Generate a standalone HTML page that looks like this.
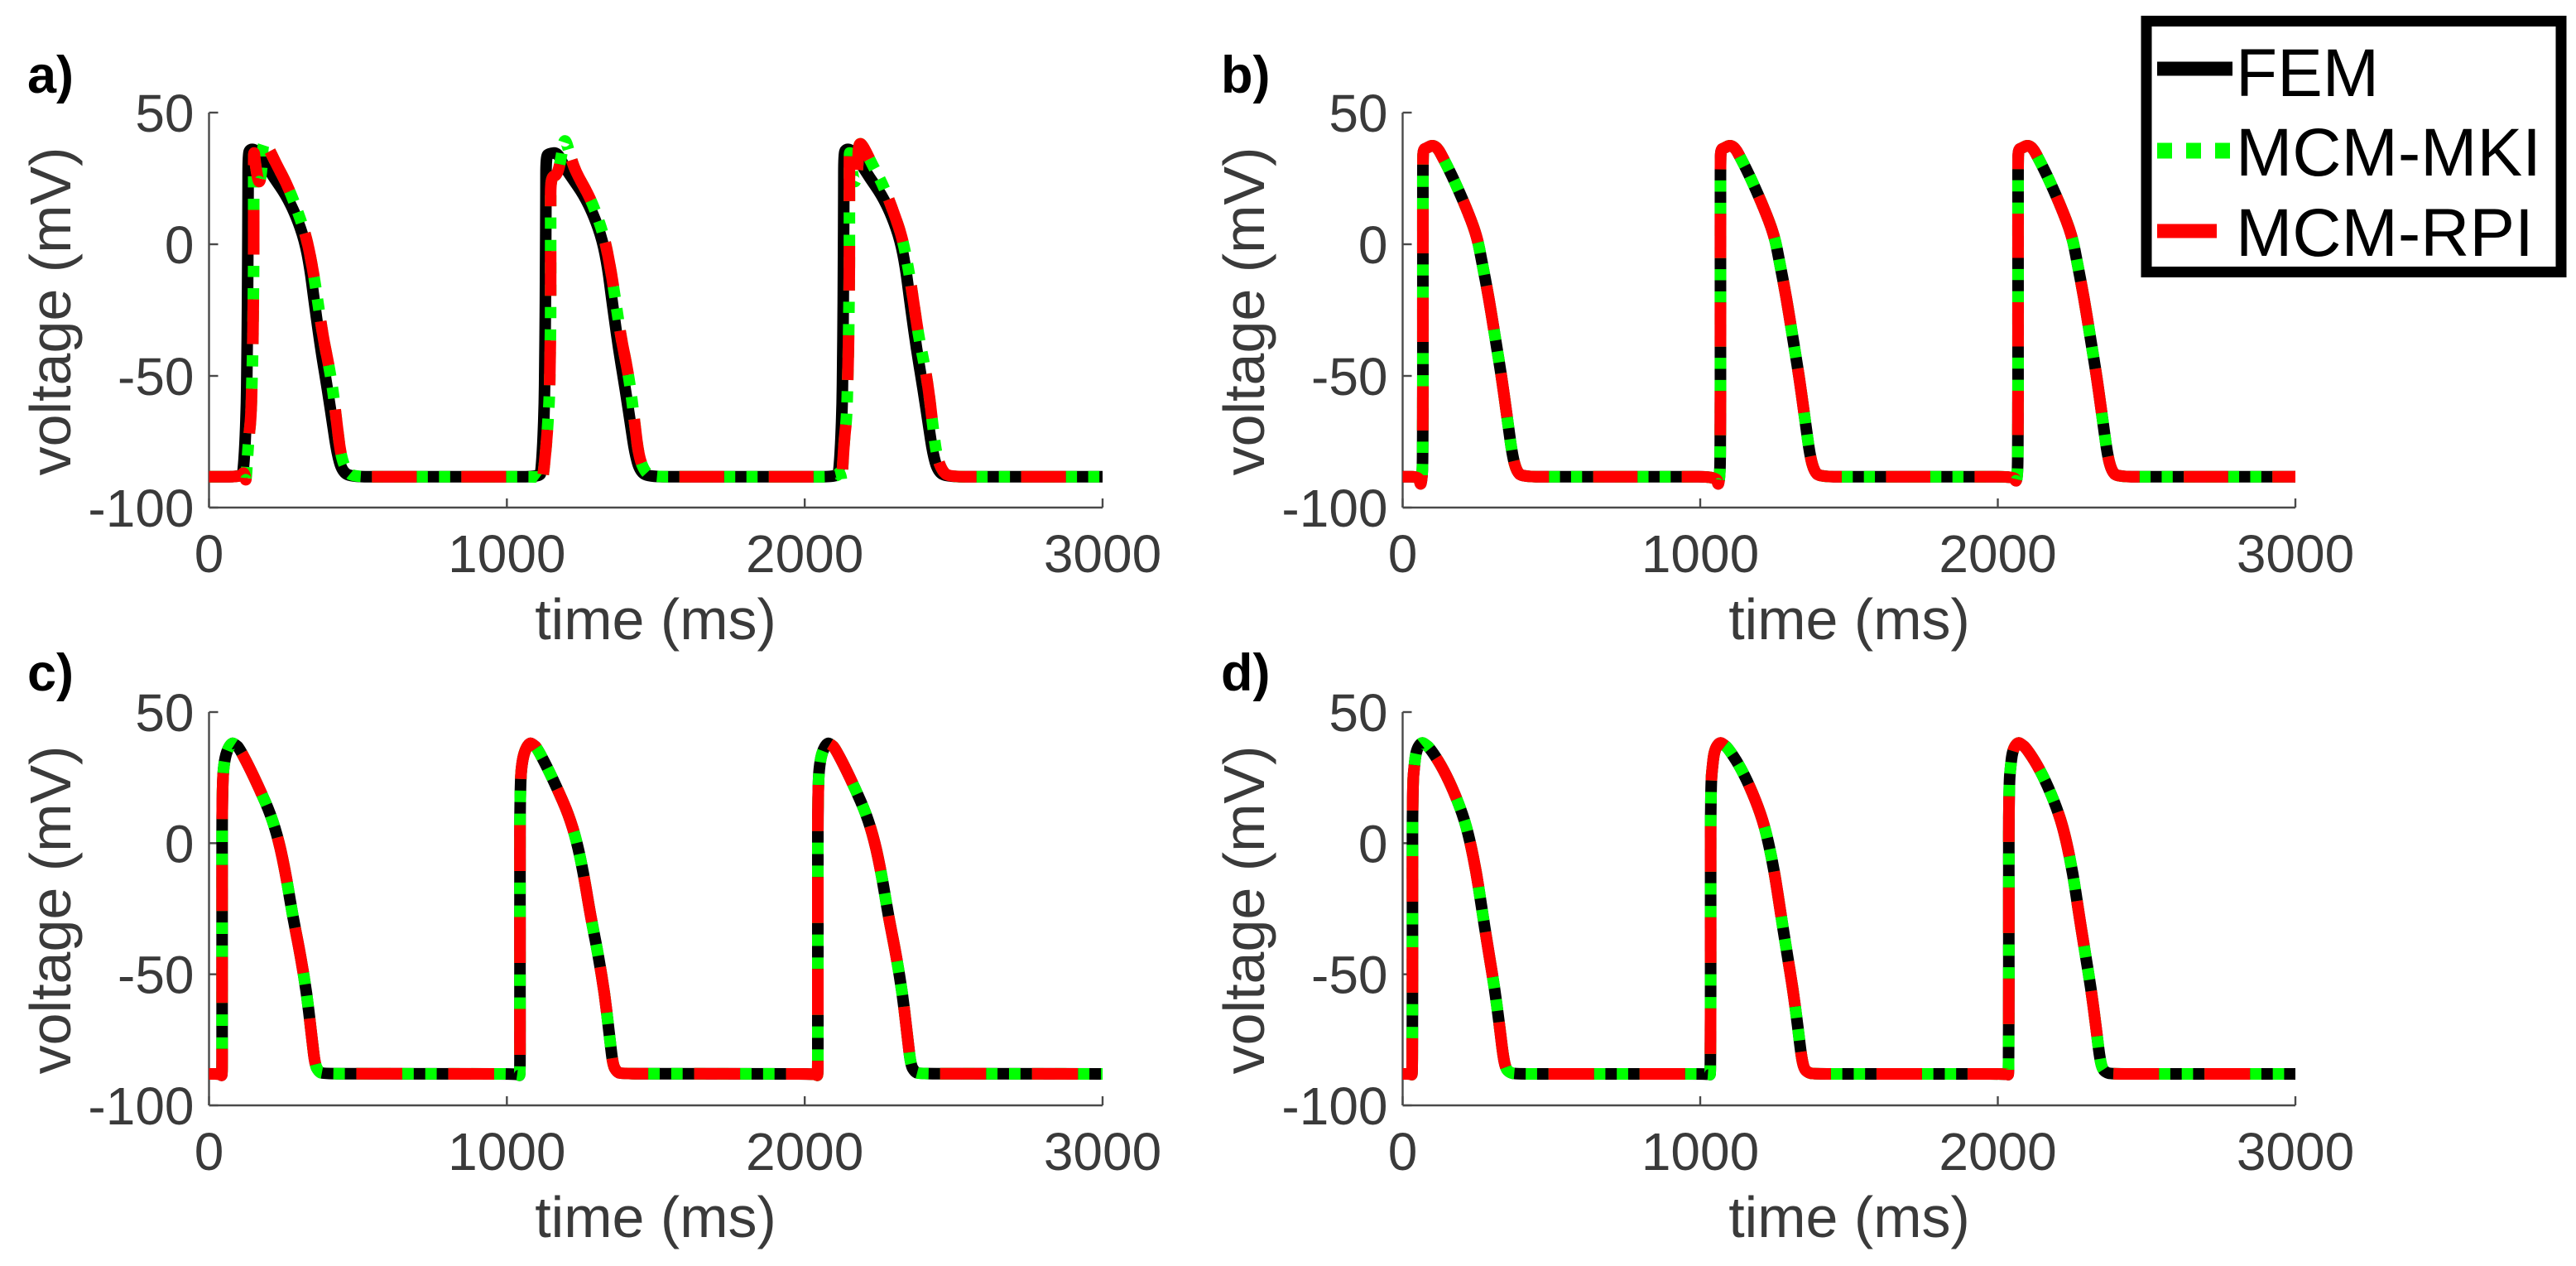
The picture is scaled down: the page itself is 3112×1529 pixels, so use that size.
<!DOCTYPE html>
<html lang="en">
<head>
<meta charset="utf-8">
<title>Action potential comparison: FEM, MCM-MKI, MCM-RPI</title>
<style>
html,body{margin:0;padding:0;background:#fff;}
svg{display:block;font-family:"Liberation Sans",sans-serif;}
.tick{font-size:64px;fill:#3a3a3a;}
.title{font-size:70px;fill:#3a3a3a;}
.panel-letter{font-size:63px;font-weight:bold;fill:#000;}
.legend-text{font-size:82px;fill:#000;}
</style>
</head>
<body>
<svg id="figure" xmlns="http://www.w3.org/2000/svg" width="3112" height="1529" viewBox="0 0 3112 1529">
  <rect x="0" y="0" width="3112" height="1529" fill="#fff"/>

  <text class="panel-letter" x="33" y="112">a)</text>
  <text class="panel-letter" x="1475" y="112">b)</text>
  <text class="panel-letter" x="33" y="834">c)</text>
  <text class="panel-letter" x="1475" y="834">d)</text>

  <text class="title" text-anchor="middle" x="792" y="772">time (ms)</text>
  <text class="title" text-anchor="middle" x="2234" y="772">time (ms)</text>
  <text class="title" text-anchor="middle" x="792" y="1494">time (ms)</text>
  <text class="title" text-anchor="middle" x="2234" y="1494">time (ms)</text>

  <text class="title" text-anchor="middle" transform="translate(85 376) rotate(-90)">voltage (mV)</text>
  <text class="title" text-anchor="middle" transform="translate(1527 376) rotate(-90)">voltage (mV)</text>
  <text class="title" text-anchor="middle" transform="translate(85 1099) rotate(-90)">voltage (mV)</text>
  <text class="title" text-anchor="middle" transform="translate(1527 1099) rotate(-90)">voltage (mV)</text>

  <g id="plots"></g>

  <g>
    <rect x="2593" y="25.5" width="501" height="303" fill="#fff" stroke="#000" stroke-width="13"/>
    <line x1="2606" x2="2697" y1="83" y2="83" stroke="#000" stroke-width="17"/>
    <line x1="2606" x2="2697" y1="182" y2="182" stroke="#00ff00" stroke-width="19" stroke-dasharray="18 17"/>
    <line x1="2606" x2="2678" y1="279" y2="279" stroke="#ff0000" stroke-width="17"/>
    <text class="legend-text" x="2701" y="116">FEM</text>
    <text class="legend-text" x="2701" y="212">MCM-MKI</text>
    <text class="legend-text" x="2701" y="309">MCM-RPI</text>
  </g>
</svg>

<script>
const xTicks = [0, 1000, 2000, 3000];
const yTicks = [-100, -50, 0, 50];
const xTickLabels = ['0', '1000', '2000', '3000'];
const yTickLabels = ['-100', '-50', '0', '50'];

// Panel a: the FEM trace is slightly offset from the two MCM traces
const aTimeFem = [0,110,115,121,126,129,131,131.5,138,161,184,219,258,292,321,339,352,375,398,416,430,447,476,
  1110,1115,1121,1126,1129,1131,1131.5,1143,1170,1190,1219,1258,1292,1321,1339,1352,1375,1398,1416,1430,1447,1476,
  2110,2115,2121,2126,2129,2131,2131.5,2138,2161,2184,2219,2258,2292,2321,2339,2352,2375,2398,2416,2430,2447,2476,3000];
const aFem = [-88.3,-88.3,-86.2,-76.3,-60.5,-29,13,34,36.3,35.6,31.4,25.1,18.8,10.9,1.5,-9,-20.6,-39.5,-55.3,-68.9,-79.4,-86.2,-88.3,
  -88.3,-86.2,-76.3,-60.5,-29,13,33.5,34.5,34.8,30,25.1,18.8,10.9,1.5,-9,-20.6,-39.5,-55.3,-68.9,-79.4,-86.2,-88.3,
  -88.3,-86.2,-76.3,-60.5,-29,13,34,36.3,35.6,31.4,25.1,18.8,10.9,1.5,-9,-20.6,-39.5,-55.3,-68.9,-79.4,-86.2,-88.3,-88.3];
const aTimeMcm = [0,110,115,122,124,133,141,147,150,150,150,156,168.5,178,181,198,226,263,296,328,351,365,383,402,416,430,443,462,485,
  1101,1112,1119,1133,1143,1147,1147,1147,1170,1184,1194,1212,1230,1272,1296,1328,1351,1365,1383,1402,1416,1430,1443,1462,1485,
  2110,2115,2122,2124,2133,2141,2147,2150,2150,2150,2156,2168.5,2178,2181,2198,2226,2263,2296,2328,2351,2365,2383,2402,2416,2430,2443,2462,2485,3000];
const aMki = [-88.3,-88.3,-86.5,-88,-90.5,-74,-65.8,-39.5,-8,23.5,37,29.8,22,28.8,39,37,30.4,22.5,13,2.5,-11,-21.6,-35.3,-45.8,-55.3,-68.9,-80.5,-86.2,-88.3,
  -88.3,-88.5,-91,-76,-58.4,-29,13,25.6,26.2,34,41,34,27.7,19.3,13,2.5,-11,-21.6,-35.3,-45.8,-55.3,-68.9,-80.5,-86.2,-88.3,
  -88.3,-86.5,-88,-90.5,-74,-65.8,-39.5,-8,23.5,37,29.8,22,28.8,39,37,30.4,22.5,13,2.5,-11,-21.6,-35.3,-45.8,-55.3,-68.9,-80.5,-86.2,-88.3,-88.3];
const aRpi = [-88.3,-88.3,-86.5,-88,-90.5,-74,-65.8,-39.5,-8,23.5,37,29.8,22,28.8,39,37,30.4,22.5,13,2.5,-11,-21.6,-35.3,-45.8,-55.3,-68.9,-80.5,-86.2,-88.3,
  -88.3,-88.5,-91,-76,-58.4,-29,13,25.6,26.2,34,41,34,27.7,19.3,13,2.5,-11,-21.6,-35.3,-45.8,-55.3,-68.9,-80.5,-86.2,-88.3,
  -88.3,-86.5,-88,-90.5,-74,-65.8,-39.5,-8,23.5,37,29.8,22,28.8,39,37,30.4,22.5,13,2.5,-11,-21.6,-35.3,-45.8,-55.3,-68.9,-80.5,-86.2,-88.3,-88.3];

// Panel b
const bTime = [0,55,60,63,65,67,68,68,68,69,80,100,118,137,155,174,211,249,267,290,309,332,355,369,383,402,
  1055,1060,1063,1065,1067,1068,1068,1068,1069,1080,1100,1118,1137,1155,1174,1211,1249,1267,1290,1309,1332,1355,1369,1383,1402,
  2055,2060,2063,2065,2067,2068,2068,2068,2069,2080,2100,2118,2137,2155,2174,2211,2249,2267,2290,2309,2332,2355,2369,2383,2402,3000];
const bFem = [-88.3,-88.3,-91.5,-90,-88,-84,-60,0,30,36,36.5,37.7,36.5,32.5,28.5,24,14.6,3.5,-7,-20.6,-34.2,-50,-69,-80.4,-86.2,-88.3,
  -88.3,-91.5,-90,-88,-84,-60,0,30,36,36.5,37.7,36.5,32.5,28.5,24,14.6,3.5,-7,-20.6,-34.2,-50,-69,-80.4,-86.2,-88.3,
  -88.3,-90,-89.5,-88,-84,-60,0,30,36,36.5,37.7,36.5,32.5,28.5,24,14.6,3.5,-7,-20.6,-34.2,-50,-69,-80.4,-86.2,-88.3,-88.3];
const bMki = [-88.3,-88.3,-91.5,-90,-88,-84,-60,0,30,36,36.5,37.7,36.5,32.5,28.5,24,14.6,3.5,-7,-20.6,-34.2,-50,-69,-80.4,-86.2,-88.3,
  -88.3,-91.5,-90,-88,-84,-60,0,30,36,36.5,37.7,36.5,32.5,28.5,24,14.6,3.5,-7,-20.6,-34.2,-50,-69,-80.4,-86.2,-88.3,
  -88.3,-90,-89.5,-88,-84,-60,0,30,36,36.5,37.7,36.5,32.5,28.5,24,14.6,3.5,-7,-20.6,-34.2,-50,-69,-80.4,-86.2,-88.3,-88.3];
const bRpi = [-88.3,-88.3,-91.5,-90,-88,-84,-60,0,30,36,36.5,37.7,36.5,32.5,28.5,24,14.6,3.5,-7,-20.6,-34.2,-50,-69,-80.4,-86.2,-88.3,
  -88.3,-91.5,-90,-88,-84,-60,0,30,36,36.5,37.7,36.5,32.5,28.5,24,14.6,3.5,-7,-20.6,-34.2,-50,-69,-80.4,-86.2,-88.3,
  -88.3,-90,-89.5,-88,-84,-60,0,30,36,36.5,37.7,36.5,32.5,28.5,24,14.6,3.5,-7,-20.6,-34.2,-50,-69,-80.4,-86.2,-88.3,-88.3];

// Panel c
const cTime = [0,40,44,44,44,44,46,50,59,76,90,101,133,170,207,235,258,281,305,328,346,356,369,383,
  1040,1044,1044,1044,1044,1046,1050,1059,1076,1090,1101,1133,1170,1207,1235,1258,1281,1305,1328,1346,1356,1369,1383,
  2040,2044,2044,2044,2044,2046,2050,2059,2076,2090,2101,2133,2170,2207,2235,2258,2281,2305,2328,2346,2356,2369,2383,3000];
const cFem = [-88,-88,-89,-60,-20,10,24,30,35,38.4,37.5,36.3,29.5,20.6,11,0.6,-12,-27.8,-41.5,-57.3,-75,-84.6,-87.2,-87.9,
  -88,-89,-60,-20,10,24,30,35,38.4,37.5,36.3,29.5,20.6,11,0.6,-12,-27.8,-41.5,-57.3,-75,-84.6,-87.2,-87.9,
  -88,-89,-60,-20,10,24,30,35,38.4,37.5,36.3,29.5,20.6,11,0.6,-12,-27.8,-41.5,-57.3,-75,-84.6,-87.2,-87.9,-88];
const cMki = [-88,-88,-89,-60,-20,10,24,30,35,38.4,37.5,36.3,29.5,20.6,11,0.6,-12,-27.8,-41.5,-57.3,-75,-84.6,-87.2,-87.9,
  -88,-89,-60,-20,10,24,30,35,38.4,37.5,36.3,29.5,20.6,11,0.6,-12,-27.8,-41.5,-57.3,-75,-84.6,-87.2,-87.9,
  -88,-89,-60,-20,10,24,30,35,38.4,37.5,36.3,29.5,20.6,11,0.6,-12,-27.8,-41.5,-57.3,-75,-84.6,-87.2,-87.9,-88];
const cRpi = [-88,-88,-89,-60,-20,10,24,30,35,38.4,37.5,36.3,29.5,20.6,11,0.6,-12,-27.8,-41.5,-57.3,-75,-84.6,-87.2,-87.9,
  -88,-89,-60,-20,10,24,30,35,38.4,37.5,36.3,29.5,20.6,11,0.6,-12,-27.8,-41.5,-57.3,-75,-84.6,-87.2,-87.9,
  -88,-89,-60,-20,10,24,30,35,38.4,37.5,36.3,29.5,20.6,11,0.6,-12,-27.8,-41.5,-57.3,-75,-84.6,-87.2,-87.9,-88];

// Panel d
const dTime = [0,29,32,33,33,33,35,38,45,63,77,91,128,165,202,225,249,267,286,309,327,337,346,360,378,
  1031,1034,1035,1035,1035,1037,1040,1047,1065,1079,1093,1130,1167,1204,1227,1251,1269,1288,1311,1329,1339,1348,1362,1380,
  2033,2036,2037,2037,2037,2039,2042,2049,2067,2081,2095,2132,2169,2206,2229,2253,2271,2290,2313,2331,2341,2350,2364,2382,3000];
const dFem = [-88,-88,-88.5,-60,-20,10,24,28,35.3,38.6,37.6,36.3,30,21.6,11,1.6,-12,-25.8,-39.5,-55.3,-71,-80.6,-85.9,-87.5,-88,
  -88,-88.5,-60,-20,10,24,28,35.3,38.6,37.6,36.3,30,21.6,11,1.6,-12,-25.8,-39.5,-55.3,-71,-80.6,-85.9,-87.5,-88,
  -88,-88.5,-60,-20,10,24,28,35.3,38.6,37.6,36.3,30,21.6,11,1.6,-12,-25.8,-39.5,-55.3,-71,-80.6,-85.9,-87.5,-88,-88];
const dMki = [-88,-88,-88.5,-60,-20,10,24,28,35.3,38.6,37.6,36.3,30,21.6,11,1.6,-12,-25.8,-39.5,-55.3,-71,-80.6,-85.9,-87.5,-88,
  -88,-88.5,-60,-20,10,24,28,35.3,38.6,37.6,36.3,30,21.6,11,1.6,-12,-25.8,-39.5,-55.3,-71,-80.6,-85.9,-87.5,-88,
  -88,-88.5,-60,-20,10,24,28,35.3,38.6,37.6,36.3,30,21.6,11,1.6,-12,-25.8,-39.5,-55.3,-71,-80.6,-85.9,-87.5,-88,-88];
const dRpi = [-88,-88,-88.5,-60,-20,10,24,28,35.3,38.6,37.6,36.3,30,21.6,11,1.6,-12,-25.8,-39.5,-55.3,-71,-80.6,-85.9,-87.5,-88,
  -88,-88.5,-60,-20,10,24,28,35.3,38.6,37.6,36.3,30,21.6,11,1.6,-12,-25.8,-39.5,-55.3,-71,-80.6,-85.9,-87.5,-88,
  -88,-88.5,-60,-20,10,24,28,35.3,38.6,37.6,36.3,30,21.6,11,1.6,-12,-25.8,-39.5,-55.3,-71,-80.6,-85.9,-87.5,-88,-88];

const panels = [
  {id:'a', left:252.5, right:1332, top:136, bottom:613, dashPeriod:108, dashOffset:0,
   fem:[aTimeFem,aFem], mki:[aTimeMcm,aMki], rpi:[aTimeMcm,aRpi]},
  {id:'b', left:1694.5, right:2773, top:136, bottom:613, dashPeriod:107, dashOffset:16,
   fem:[bTime,bFem], mki:[bTime,bMki], rpi:[bTime,bRpi]},
  {id:'c', left:252.5, right:1332, top:860, bottom:1335, dashPeriod:111, dashOffset:8,
   fem:[cTime,cFem], mki:[cTime,cMki], rpi:[cTime,cRpi]},
  {id:'d', left:1694.5, right:2773, top:860, bottom:1335, dashPeriod:110, dashOffset:0,
   fem:[dTime,dFem], mki:[dTime,dMki], rpi:[dTime,dRpi]}
];

const SVG_NS = 'http://www.w3.org/2000/svg';
const plots = document.getElementById('plots');
const X_MIN = 0, X_MAX = 3000, Y_MIN = -100, Y_MAX = 50;
const CORNER_RADIUS = 22;

function makeX(p){ return function(t){ return p.left + (t - X_MIN) / (X_MAX - X_MIN) * (p.right - p.left); }; }
function makeY(p){ return function(v){ return p.bottom - (v - Y_MIN) / (Y_MAX - Y_MIN) * (p.bottom - p.top); }; }

function axisLine(parent, x1, y1, x2, y2){
  const l = document.createElementNS(SVG_NS, 'line');
  l.setAttribute('x1', x1);
  l.setAttribute('y1', y1);
  l.setAttribute('x2', x2);
  l.setAttribute('y2', y2);
  l.setAttribute('stroke', '#4a4a4a');
  l.setAttribute('stroke-width', '2.4');
  parent.appendChild(l);
  return l;
}

function tickText(parent, x, y, anchor, str){
  const t = document.createElementNS(SVG_NS, 'text');
  t.setAttribute('class', 'tick');
  t.setAttribute('x', x);
  t.setAttribute('y', y);
  t.setAttribute('text-anchor', anchor);
  t.textContent = str;
  parent.appendChild(t);
  return t;
}

// Rounds each vertex with a radius-limited quadratic so curves read as smooth
function smoothD(times, volts, sx, sy){
  const pts = [];
  for (let i = 0; i < times.length; i++) {
    pts.push([sx(times[i]), sy(volts[i])]);
  }
  let d = 'M' + pts[0][0].toFixed(2) + ' ' + pts[0][1].toFixed(2);
  for (let i = 1; i < pts.length - 1; i++) {
    const a = pts[i - 1], b = pts[i], c = pts[i + 1];
    const la = Math.hypot(b[0] - a[0], b[1] - a[1]);
    const lc = Math.hypot(c[0] - b[0], c[1] - b[1]);
    if (la === 0 || lc === 0) continue;
    const ra = Math.min(la / 2, CORNER_RADIUS);
    const rc = Math.min(lc / 2, CORNER_RADIUS);
    const x1 = b[0] - (b[0] - a[0]) / la * ra;
    const y1 = b[1] - (b[1] - a[1]) / la * ra;
    const x2 = b[0] + (c[0] - b[0]) / lc * rc;
    const y2 = b[1] + (c[1] - b[1]) / lc * rc;
    d += 'L' + x1.toFixed(2) + ' ' + y1.toFixed(2);
    d += 'Q' + b[0].toFixed(2) + ' ' + b[1].toFixed(2) + ' ' + x2.toFixed(2) + ' ' + y2.toFixed(2);
  }
  const last = pts[pts.length - 1];
  d += 'L' + last[0].toFixed(2) + ' ' + last[1].toFixed(2);
  return d;
}

function seriesPath(parent, pair, sx, sy, color, dash, offset){
  const path = document.createElementNS(SVG_NS, 'path');
  path.setAttribute('d', smoothD(pair[0], pair[1], sx, sy));
  path.setAttribute('fill', 'none');
  path.setAttribute('stroke', color);
  path.setAttribute('stroke-width', '14');
  path.setAttribute('stroke-linejoin', 'round');
  if (dash) {
    path.setAttribute('stroke-dasharray', dash);
    path.setAttribute('stroke-dashoffset', offset);
  }
  parent.appendChild(path);
  return path;
}

panels.forEach(function(p){
  const sx = makeX(p), sy = makeY(p);
  const g = document.createElementNS(SVG_NS, 'g');
  
  
  plots.appendChild(g);

  const yAxis = axisLine(g, p.left, p.top, p.left, p.bottom);
  
  
  const xAxis = axisLine(g, p.left, p.bottom, p.right, p.bottom);
  
  

  xTicks.forEach(function(v, i){
    const tk = axisLine(g, sx(v), p.bottom, sx(v), p.bottom - 11);
    
    
    const lb = tickText(g, sx(v), p.bottom + 78, 'middle', xTickLabels[i]);
    
    
  });
  yTicks.forEach(function(v, i){
    const tk = axisLine(g, p.left, sy(v), p.left + 11, sy(v));
    
    
    const lb = tickText(g, p.left - 18, sy(v) + 23, 'end', yTickLabels[i]);
    
    
  });

  const dotLen = p.dashPeriod / 8;
  const dashLen = p.dashPeriod / 2;
  const fem = seriesPath(g, p.fem, sx, sy, '#000000', null, 0);
  
  
  const mki = seriesPath(g, p.mki, sx, sy, '#00ff00', dotLen + ' ' + dotLen, p.dashOffset);
  
  
  const rpi = seriesPath(g, p.rpi, sx, sy, '#ff0000', dashLen + ' ' + dashLen, p.dashOffset);
  
  
});
</script>
</body>
</html>
